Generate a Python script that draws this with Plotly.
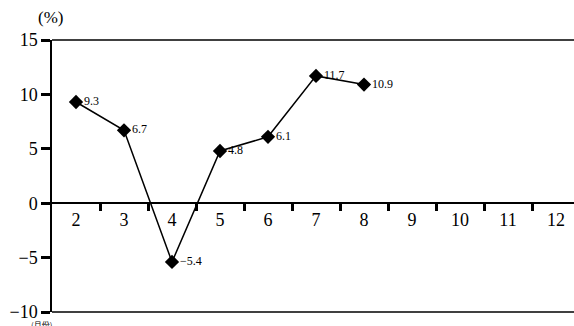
import plotly.graph_objects as go

months = [2, 3, 4, 5, 6, 7, 8]
growth = [9.3, 6.7, -5.4, 4.8, 6.1, 11.7, 10.9]
labels = ["9.3", "6.7", "−5.4", "4.8", "6.1", "11.7", "10.9"]

month_ticks = [2, 3, 4, 5, 6, 7, 8, 9, 10, 11, 12]
y_ticks = [-10, -5, 0, 5, 10, 15]
y_ticktext = ["−10", "−5", "0", "5", "10", "15"]

serif = "Liberation Serif"

fig = go.Figure()
fig.add_trace(go.Scatter(
    x=months, y=growth, mode="lines+markers+text",
    text=labels, textposition="middle right",
    textfont=dict(family=serif, size=12, color="black"),
    line=dict(color="black", width=1.5),
    marker=dict(symbol="diamond", size=11, color="black"),
    cliponaxis=False, showlegend=False,
))

fig.update_layout(
    width=574, height=326,
    margin=dict(l=52, r=0, t=40, b=14),
    plot_bgcolor="white", paper_bgcolor="white",
    xaxis=dict(
        range=[1.5, 12.375], anchor="free", position=0.4, automargin=False,
        tickvals=month_ticks, ticktext=[str(m) for m in month_ticks],
        ticks="outside", ticklen=0, tickcolor="black",
        tickfont=dict(family=serif, size=18, color="black"),
        minor=dict(tickvals=[m + 0.5 for m in month_ticks[:-1]], ticks="outside",
                   ticklen=7, tickwidth=3, tickcolor="black"),
        showline=True, linecolor="black", linewidth=1.5,
        showgrid=False, zeroline=False,
    ),
    yaxis=dict(
        range=[-10, 15], tickvals=y_ticks, ticktext=y_ticktext, automargin=False,
        ticks="outside", ticklen=9, tickwidth=3, tickcolor="black",
        tickfont=dict(family=serif, size=18, color="black"),
        showline=True, linecolor="black", linewidth=1.5,
        showgrid=False, zeroline=False,
    ),
    shapes=[
        dict(type="line", xref="paper", yref="paper", x0=0, x1=1, y0=1, y1=1,
             line=dict(color="black", width=1.5)),
        dict(type="line", xref="paper", yref="paper", x0=0, x1=1, y0=0, y1=0,
             line=dict(color="black", width=1.5)),
    ],
    annotations=[
        dict(text="(%)", xref="paper", yref="paper", x=-0.031, y=1.0,
             yanchor="middle", yshift=23,
             showarrow=False, font=dict(family=serif, size=17, color="black")),
        dict(text="(月份)", xref="paper", yref="paper", x=-0.044, y=0,
             xanchor="left", yanchor="top", yshift=-5, showarrow=False,
             font=dict(family="Noto Sans CJK SC", size=8, color="black")),
    ],
)

# page has a default body margin, drop it so the figure sits at the corner
fig.write_html("out.html", config={"displayModeBar": False},
               post_script="document.body.style.margin='0';")
